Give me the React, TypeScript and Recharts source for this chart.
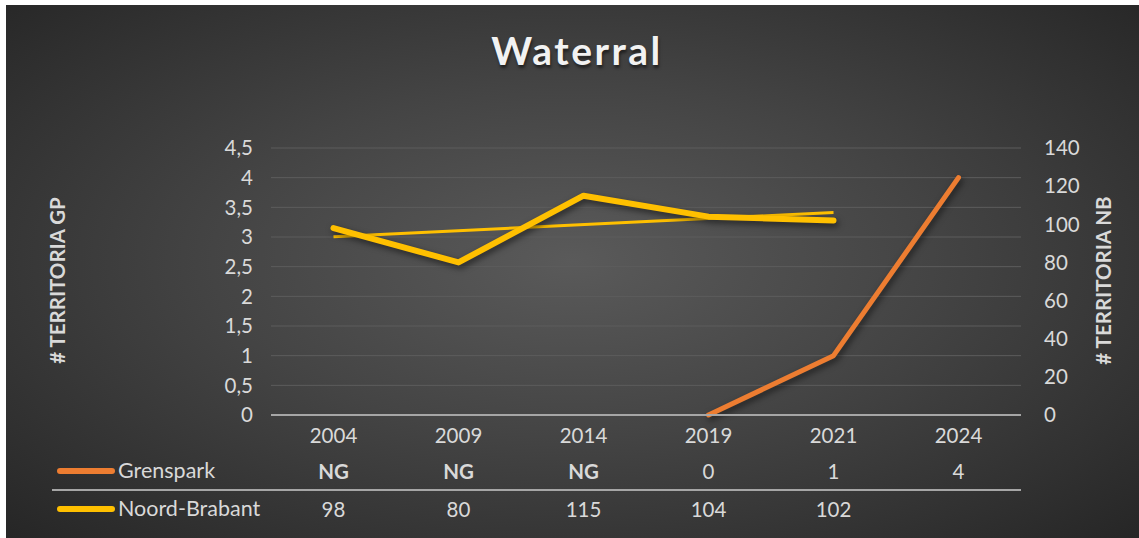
import React from 'react';
import {
  ComposedChart,
  Line,
  XAxis,
  YAxis,
  CartesianGrid,
  Label,
} from 'recharts';

const YEARS = ['2004', '2009', '2014', '2019', '2021', '2024'];
const GRENSPARK = [null, null, null, 0, 1, 4];
const GRENSPARK_TABLE = ['NG', 'NG', 'NG', '0', '1', '4'];
const NOORD_BRABANT = [98, 80, 115, 104, 102, null];
const NOORD_BRABANT_TABLE = ['98', '80', '115', '104', '102', ''];
// linear trendline of Noord-Brabant (end points)
const NB_TREND = [93.4, null, null, null, 106.2, null];
const LEFT_TICKS = [0, 0.5, 1, 1.5, 2, 2.5, 3, 3.5, 4, 4.5];
const RIGHT_TICKS = [0, 20, 40, 60, 80, 100, 120, 140];

const ORANGE = '#ED7D31';
const YELLOW = '#FFC000';
const TEXT = '#d9d9d9';
const FONT = 'Lato, "Open Sans", sans-serif';

const data = YEARS.map((year, i) => ({
  year,
  gp: GRENSPARK[i],
  nb: NOORD_BRABANT[i],
  trend: NB_TREND[i],
  gpLabel: GRENSPARK_TABLE[i],
  nbLabel: NOORD_BRABANT_TABLE[i],
}));

const W = 1133;
const H = 533;

function TableTick(props: any) {
  const { x, y, payload } = props;
  const row = data[payload.index];
  const bold = row.gpLabel === 'NG';
  return (
    <g>
      <text x={x} y={y + 20} textAnchor="middle" dominantBaseline="central" fill={TEXT} fontSize={20.5} fontFamily={FONT}>
        {payload.value}
      </text>
      <text
        x={x}
        y={y + 56}
        textAnchor="middle"
        dominantBaseline="central"
        fill={TEXT}
        fontSize={20.5}
        fontWeight={bold ? 700 : 400}
        fontFamily={FONT}
      >
        {row.gpLabel}
      </text>
      <text x={x} y={y + 94} textAnchor="middle" dominantBaseline="central" fill={TEXT} fontSize={20.5} fontFamily={FONT}>
        {row.nbLabel}
      </text>
    </g>
  );
}

function AxisTitle(props: any) {
  const { viewBox, value, cx } = props;
  const cy = viewBox.y + viewBox.height / 2 - 1;
  return (
    <text
      x={cx}
      y={cy}
      transform={`rotate(-90, ${cx}, ${cy})`}
      textAnchor="middle"
      dominantBaseline="central"
      fill={TEXT}
      fontSize={20.5}
      fontWeight={700}
      fontFamily={FONT}
    >
      {value}
    </text>
  );
}

export default function App() {
  return (
    <div style={{ position: 'relative', width: 1139, height: 538, background: '#fff', fontFamily: FONT }}>
      <style>{`body{margin:0} .shadowed path{filter:drop-shadow(2px 3px 3px rgba(0,0,0,0.55))}`}</style>
      <div
        style={{
          position: 'absolute',
          left: 6,
          top: 5,
          width: W,
          height: H,
          background: 'radial-gradient(ellipse farthest-corner at 50% 48%, #5a5a5a 0%, #444 45%, #262626 100%)',
        }}
      >
        <div
          style={{
            position: 'absolute',
            left: 371,
            top: 22,
            width: 400,
            textAlign: 'center',
            color: '#f2f2f2',
            fontSize: 39,
            fontWeight: 700,
            letterSpacing: 2.5,
            textShadow: '1px 3px 3px rgba(0,0,0,0.5)',
          }}
        >
          Waterral
        </div>

        <ComposedChart width={W} height={H} data={data} margin={{ top: 143, right: 0, bottom: 0, left: 0 }}>
          <CartesianGrid yAxisId="left" vertical={false} stroke="#5d5d5d" strokeWidth={1} />
          <XAxis
            dataKey="year"
            height={123}
            padding={{ left: 62.5, right: 62.5 }}
            axisLine={{ stroke: '#a6a6a6', strokeWidth: 2 }}
            tickLine={false}
            tickSize={0}
            tickMargin={0}
            tick={<TableTick />}
            interval={0}
          />
          <YAxis
            yAxisId="left"
            width={265}
            domain={[0, 4.5]}
            ticks={LEFT_TICKS}
            axisLine={false}
            tickLine={false}
            tickSize={0}
            tickMargin={18}
            tick={{ fill: TEXT, fontSize: 20.5, fontFamily: FONT }}
            tickFormatter={(v: number) => String(v).replace('.', ',')}
          >
            <Label value="# TERRITORIA GP" content={<AxisTitle cx={51} />} />
          </YAxis>
          <YAxis
            yAxisId="right"
            orientation="right"
            width={118}
            domain={[0, 140]}
            ticks={RIGHT_TICKS}
            axisLine={false}
            tickLine={false}
            tickSize={0}
            tickMargin={23}
            tick={{ fill: TEXT, fontSize: 20.5, fontFamily: FONT, textAnchor: 'start' }}
          >
            <Label value="# TERRITORIA NB" content={<AxisTitle cx={1097} />} />
          </YAxis>
          <Line
            yAxisId="right"
            dataKey="trend"
            stroke={YELLOW}
            strokeWidth={3}
            dot={false}
            connectNulls
            isAnimationActive={false}
          />
          <Line
            yAxisId="right"
            dataKey="nb"
            className="shadowed"
            stroke={YELLOW}
            strokeWidth={6}
            strokeLinecap="round"
            strokeLinejoin="round"
            dot={false}
            isAnimationActive={false}
          />
          <Line
            yAxisId="left"
            dataKey="gp"
            className="shadowed"
            stroke={ORANGE}
            strokeWidth={5}
            strokeLinecap="round"
            strokeLinejoin="round"
            dot={false}
            isAnimationActive={false}
          />
        </ComposedChart>

        {/* data table legend */}
        <div style={{ position: 'absolute', left: 46, top: 484, width: 969, height: 2, background: '#a6a6a6' }} />
        <div style={{ position: 'absolute', left: 51, top: 463, width: 58, height: 6, borderRadius: 3, background: ORANGE }} />
        <div style={{ position: 'absolute', left: 112, top: 452, color: TEXT, fontSize: 21.5, lineHeight: '26px' }}>
          Grenspark
        </div>
        <div style={{ position: 'absolute', left: 51, top: 501, width: 58, height: 6, borderRadius: 3, background: YELLOW }} />
        <div style={{ position: 'absolute', left: 112, top: 490, color: TEXT, fontSize: 21.5, lineHeight: '26px' }}>
          Noord-Brabant
        </div>
      </div>
    </div>
  );
}
